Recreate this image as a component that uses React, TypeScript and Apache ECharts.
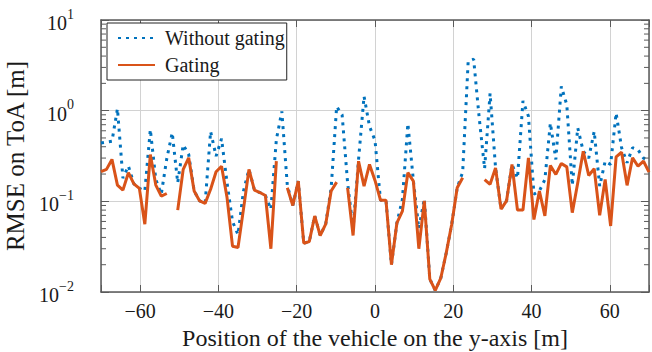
import React, { useEffect, useRef } from 'react';
import * as echarts from 'echarts';

// Vehicle position on the y-axis [m]
const positions = [
  -70.0, -68.6, -67.2, -65.8, -64.4, -63.0, -61.6, -60.2, -58.8, -57.4,
  -56.0, -54.6, -53.2, -51.8, -50.4, -49.0, -47.6, -46.2, -44.8, -43.4,
  -42.0, -40.6, -39.2, -37.8, -36.4, -35.0, -33.6, -32.2, -30.8, -29.4,
  -28.0, -26.6, -25.2, -23.8, -22.4, -21.0, -19.6, -18.2, -16.8, -15.4,
  -14.0, -12.6, -11.2, -9.8, -8.4, -7.0, -5.6, -4.2, -2.8, -1.4,
  0.0, 1.4, 2.8, 4.2, 5.6, 7.0, 8.4, 9.8, 11.2, 12.6,
  14.0, 15.4, 16.8, 18.2, 19.6, 21.0, 22.4, 23.8, 25.2, 26.6,
  28.0, 29.4, 30.8, 32.2, 33.6, 35.0, 36.4, 37.8, 39.2, 40.6,
  42.0, 43.4, 44.8, 46.2, 47.6, 49.0, 50.4, 51.8, 53.2, 54.6,
  56.0, 57.4, 58.8, 60.2, 61.6, 63.0, 64.4, 65.8, 67.2, 68.6,
  70.0,
];

// RMSE on ToA [m], without gating
const withoutGating = [
  0.44, 0.45, 0.46, 1.05, 0.18, 0.245, 0.156, 0.139, 0.13, 0.62,
  0.174, 0.12, 0.295, 0.57, 0.16, 0.42, 0.33, 0.13, 0.101, 0.095,
  0.59, 0.315, 0.49, 0.16, 0.06, 0.043, 0.13, 0.225, 0.133, 0.125,
  0.116, 0.082, 0.48, 0.98, 0.15, 0.09, 0.167, 0.0345, 0.036, 0.069,
  0.042, 0.056, 0.14, 1.11, 0.9, 0.16, 0.05, 0.29, 1.44, 0.67,
  0.47, 0.103, 0.103, 0.02, 0.058, 0.105, 0.72, 0.17, 0.05, 0.107,
  0.0139, 0.0104, 0.0142, 0.027, 0.056, 0.141, 0.21, 3.48, 3.7, 0.85,
  0.23, 1.55, 0.234, 0.082, 0.101, 0.255, 0.18, 1.28, 0.87, 0.12,
  0.13, 0.174, 0.73, 0.29, 1.85, 1.16, 0.15, 0.645, 0.357, 0.3,
  0.59, 0.147, 0.277, 0.255, 0.94, 0.39, 0.266, 0.39, 0.37, 0.3,
  0.28,
];

// RMSE on ToA [m], with gating (null = no estimate)
const gating = [
  0.212, 0.225, 0.29, 0.151, 0.133, 0.207, 0.156, 0.139, 0.056, 0.328,
  0.151, 0.114, 0.122, null, 0.08, 0.225, 0.302, 0.13, 0.101, 0.095,
  0.136, 0.212, 0.244, 0.11, 0.032, 0.031, 0.082, 0.225, 0.133, 0.125,
  0.116, 0.03, 0.277, null, 0.141, 0.09, 0.167, 0.0345, 0.036, 0.069,
  0.042, 0.056, 0.13, 0.163, null, 0.141, 0.042, 0.277, 0.147, 0.255,
  0.17, 0.103, 0.103, 0.02, 0.058, 0.078, 0.207, 0.167, 0.03, 0.101,
  0.0139, 0.0104, 0.0142, 0.027, 0.056, 0.141, 0.182, null, null, null,
  0.174, 0.154, 0.234, 0.082, 0.101, 0.255, 0.08, 0.08, 0.302, 0.063,
  0.13, 0.069, 0.249, 0.198, 0.262, 0.24, 0.075, 0.16, 0.357, 0.193,
  0.229, 0.07, 0.174, 0.0535, 0.31, 0.348, 0.15, 0.302, 0.244, 0.277,
  0.21,
];

const seriesNames = ['Without gating', 'Gating'];
const xLimits = [-70, 70];
const yLimits = [0.01, 10];
const minorMultipliers = [2, 3, 4, 5, 6, 7, 8, 9];
const decades = [0.01, 0.1, 1];

const SERIF = 'Liberation Serif';
const TEXT = '#1a1a1a';
const FRAME = '#5a5a5a';
const GRID = '#d2d2d2';

export default function App() {
  const ref = useRef<HTMLDivElement>(null);

  useEffect(() => {
    document.body.style.margin = '0';
    const el = ref.current!;
    const chart = echarts.init(el, null, { renderer: 'svg' });

    const minorTicks: number[][] = [];
    decades.forEach((d) => minorMultipliers.forEach((m) => minorTicks.push([0, m * d])));

    const xLabel = (v: number) =>
      v === xLimits[0] || v === xLimits[1] ? '' : String(v).replace('-', '\u2212');
    const yLabel = (v: number) => {
      const e = Math.round(Math.log10(v));
      const s = e < 0 ? '\u2212' + Math.abs(e) : String(e);
      return `{b|10}{s|${s}}`;
    };

    const xCommon = {
      type: 'value',
      min: xLimits[0],
      max: xLimits[1],
      splitNumber: 7,
      axisLine: { show: true, onZero: false, lineStyle: { color: FRAME, width: 1.5 } },
      axisTick: { show: true, inside: true, length: 7, lineStyle: { color: FRAME, width: 1 } },
    };
    const yCommon = {
      type: 'log',
      logBase: 10,
      min: yLimits[0],
      max: yLimits[1],
      axisLine: { show: true, onZero: false, lineStyle: { color: FRAME, width: 1.5 } },
      axisTick: { show: true, inside: true, length: 8, lineStyle: { color: FRAME, width: 1 } },
    };

    chart.setOption({
      animation: false,
      textStyle: { fontFamily: SERIF },
      grid: { left: 101, right: 3, top: 20, bottom: 60, containLabel: false, outerBoundsMode: 'none' },
      legend: {
        data: seriesNames,
        left: 107,
        top: 23,
        orient: 'vertical',
        backgroundColor: '#fff',
        borderColor: '#222',
        borderWidth: 1,
        borderRadius: 0,
        padding: [5, 2, 5, 10],
        itemGap: 7,
        itemWidth: 37,
        itemHeight: 16,
        itemStyle: { opacity: 0 },
        textStyle: { fontFamily: SERIF, fontSize: 20, color: TEXT, padding: [0, 0, 0, 5] },
      },
      xAxis: [
        {
          ...xCommon,
          position: 'bottom',
          name: 'Position of the vehicle on the y-axis [m]',
          nameLocation: 'middle',
          nameGap: 31,
          nameTextStyle: { fontFamily: SERIF, fontSize: 24, color: TEXT },
          axisLabel: { formatter: xLabel, fontFamily: SERIF, fontSize: 20, color: TEXT, margin: 9 },
          splitLine: { show: true, lineStyle: { color: GRID, width: 1 } },
        },
        {
          ...xCommon,
          position: 'top',
          axisLabel: { show: false },
          splitLine: { show: false },
        },
      ],
      yAxis: [
        {
          ...yCommon,
          position: 'left',
          name: 'RMSE on ToA [m]',
          nameLocation: 'middle',
          nameGap: 70,
          nameTextStyle: { fontFamily: SERIF, fontSize: 25, color: TEXT },
          axisLabel: {
            formatter: yLabel,
            margin: 27,
            fontFamily: SERIF,
            rich: {
              b: { fontFamily: SERIF, fontSize: 20, color: TEXT, lineHeight: 26, verticalAlign: 'bottom' },
              s: { fontFamily: SERIF, fontSize: 14, color: TEXT, lineHeight: 14, verticalAlign: 'top' },
            },
          },
          splitLine: { show: true, lineStyle: { color: GRID, width: 1 } },
        },
        {
          ...yCommon,
          position: 'right',
          axisLabel: { show: false },
          splitLine: { show: false },
        },
      ],
      series: [
        {
          name: seriesNames[0],
          type: 'line',
          data: positions.map((x, i) => [x, withoutGating[i]]),
          showSymbol: false,
          symbol: 'none',
          color: '#0072BD',
          lineStyle: { color: '#0072BD', width: 3, type: [3, 5], cap: 'butt' },
          z: 3,
        },
        {
          name: seriesNames[1],
          type: 'line',
          data: positions.map((x, i) => [x, gating[i]]),
          showSymbol: false,
          symbol: 'none',
          color: '#D95319',
          connectNulls: false,
          lineStyle: { color: '#D95319', width: 3 },
          z: 4,
        },
        {
          type: 'custom',
          silent: true,
          data: minorTicks,
          encode: { x: 0, y: 1 },
          clip: false,
          z: 5,
          renderItem: (params: any, api: any) => {
            const cs = params.coordSys;
            const y = api.coord([api.value(0), api.value(1)])[1];
            const left = cs.x;
            const right = cs.x + cs.width;
            return {
              type: 'group',
              children: [
                { type: 'line', shape: { x1: left, y1: y, x2: left + 5, y2: y }, style: { stroke: FRAME, lineWidth: 1 } },
                { type: 'line', shape: { x1: right - 5, y1: y, x2: right, y2: y }, style: { stroke: FRAME, lineWidth: 1 } },
              ],
            };
          },
        },
      ],
    });

    return () => chart.dispose();
  }, []);

  return <div ref={ref} style={{ width: 652, height: 352 }} />;
}
